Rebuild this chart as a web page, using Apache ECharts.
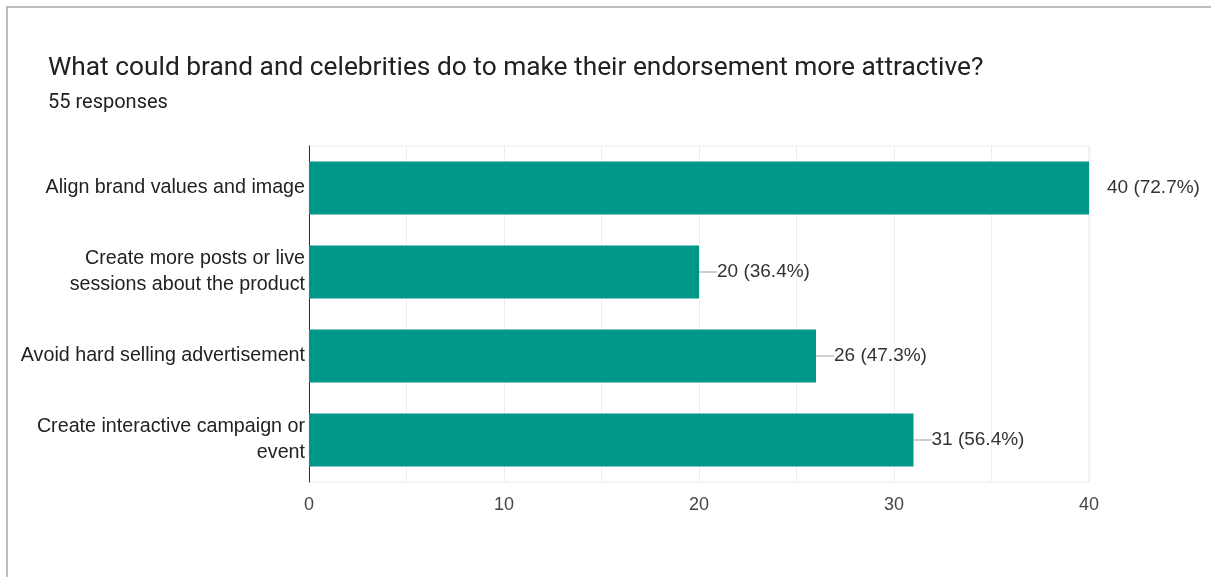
<!DOCTYPE html>
<html>
<head>
<meta charset="utf-8">
<script src="https://cdn.jsdelivr.net/npm/echarts@6/dist/echarts.min.js"></script>
<style>
  html, body { margin: 0; padding: 0; background: #fff; }
  #chart { width: 1211px; height: 577px; }
</style>
</head>
<body>
<div id="chart"></div>
<script>
// Survey question, response count and answer tallies
const questionTitle = 'What could brand and celebrities do to make their endorsement more attractive?';
const totalResponses = 55;
const categories = [
  'Align brand values and image',
  'Create more posts or live\nsessions about the product',
  'Avoid hard selling advertisement',
  'Create interactive campaign or\nevent'
];
const counts = [40, 20, 26, 31];
const axisTicks = [0, 10, 20, 30, 40];

const SANS = "'Liberation Sans', Arial, sans-serif";
const chart = echarts.init(document.getElementById('chart'));

function pct(v) {
  return (v / totalResponses * 100).toFixed(1) + '%';
}

const barData = counts.map(function (v, i) {
  // the longest bar ends on the axis edge, so its leader stays hidden
  const lineColor = i === 0 ? 'rgba(0,0,0,0)' : '#9e9e9e';
  return {
    value: v,
    label: {
      rich: {
        ln: { width: 18, height: 1, backgroundColor: lineColor },
        v: { fontSize: 19, color: '#333', fontFamily: SANS }
      }
    }
  };
});

chart.setOption({
  animation: false,
  title: {
    text: questionTitle,
    subtext: totalResponses + ' responses',
    left: 43,
    top: 50,
    itemGap: 12,
    textStyle: { fontFamily: 'Roboto, sans-serif', fontSize: 26.3, fontWeight: 'normal', color: '#202124' },
    subtextStyle: { fontFamily: 'Roboto, sans-serif', fontSize: 20, color: '#202124' }
  },
  graphic: [{
    type: 'rect',
    shape: { x: 7, y: 7, width: 1400, height: 800 },
    style: { fill: 'none', stroke: '#bdbdbd', lineWidth: 2 },
    silent: true
  }],
  grid: {
    left: 309, right: 122, top: 146, bottom: 95,
    show: true, borderColor: '#ececec', borderWidth: 1
  },
  xAxis: {
    type: 'value',
    min: axisTicks[0],
    max: axisTicks[axisTicks.length - 1],
    interval: 10,
    axisLine: { show: false },
    axisTick: { show: false },
    axisLabel: {
      margin: 14,
      fontSize: 18,
      color: '#444',
      fontFamily: "'Liberation Sans Narrow', " + SANS,
      formatter: function (v) { return axisTicks.indexOf(v) >= 0 ? String(v) : ''; }
    },
    splitLine: { show: true, lineStyle: { color: '#ececec', width: 1 } },
    minorTick: { show: false, splitNumber: 2 },
    minorSplitLine: { show: true, lineStyle: { color: '#ececec', width: 1 } }
  },
  yAxis: {
    type: 'category',
    data: categories,
    inverse: true,
    axisLine: { show: true, lineStyle: { color: '#333', width: 1 } },
    axisTick: { show: false },
    axisLabel: {
      margin: 4,
      fontSize: 19.7,
      lineHeight: 26,
      color: '#222',
      fontFamily: SANS,
      align: 'right'
    }
  },
  series: [{
    type: 'bar',
    data: barData,
    barCategoryGap: '37%',
    itemStyle: { color: '#009688' },
    label: {
      show: true,
      position: 'right',
      distance: 0,
      formatter: function (p) {
        return '{ln|}{v|' + p.value + ' (' + pct(p.value) + ')}';
      }
    }
  }]
});
</script>
</body>
</html>
